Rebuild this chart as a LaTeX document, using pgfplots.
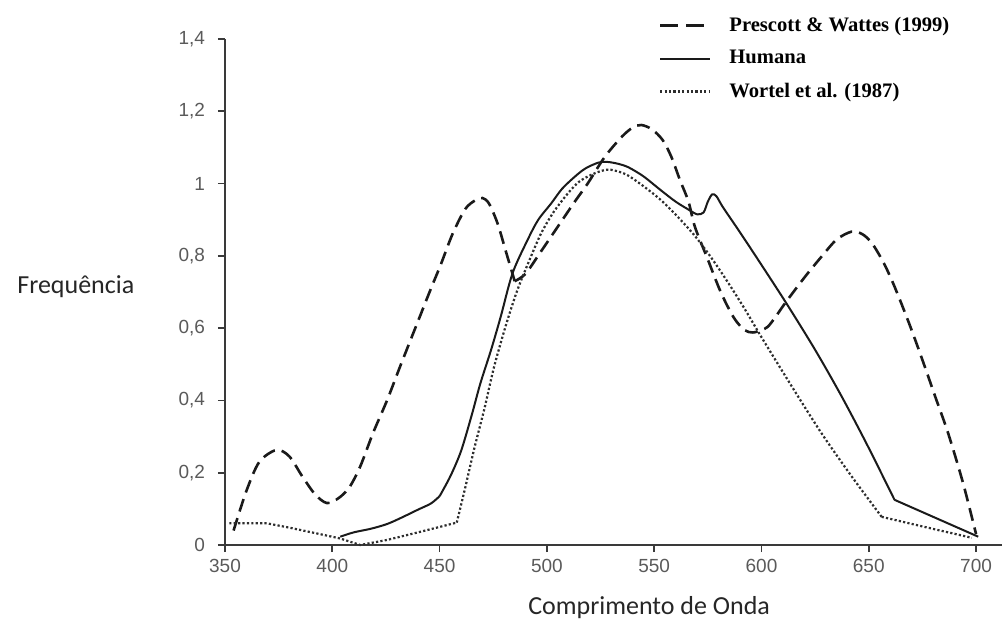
\documentclass[border=0pt]{standalone}
\usepackage{fontspec}
\setmainfont{Liberation Sans}
\newfontfamily\legfont{Liberation Serif}
\newfontfamily\labfont{Carlito}
\usepackage{pgfplots}
\pgfplotsset{compat=1.18}
\definecolor{axisGray}{HTML}{3A3A3A}
\definecolor{tickGray}{HTML}{5A5A5A}
\definecolor{curveBlack}{HTML}{1A1A1A}
\definecolor{dotGray}{HTML}{2E2E2E}

\begin{document}
\begin{tikzpicture}
\useasboundingbox (-112.5pt,-40.5pt) rectangle (389.5pt,272.5pt);
\begin{axis}[at={(0,0)},anchor=south west,scale only axis,width=388.4pt,height=253pt,
  xmin=350,xmax=712,ymin=0,ymax=1.4,clip=false,
  axis lines=left,axis line style={-,draw=axisGray,line width=0.9pt},
  xtick={350,400,...,700},ytick={0,0.2,...,1.4},
  tick align=outside,major tick length=3.5pt,tick style={draw=axisGray,line width=0.8pt},
  /pgf/number format/use comma,/pgf/number format/assume math mode=true,
  tick label style={font=\fontsize{9.5}{11}\selectfont,text=tickGray},
  yticklabel style={xshift=-3pt},
  xlabel={Comprimento de Onda},ylabel={Frequência},
  label style={font=\labfont\fontsize{13}{15}\selectfont,text=black!85},
  xlabel style={at={(rel axis cs:0.546,-0.1245)},anchor=center},
  ylabel style={rotate=-90,at={(rel axis cs:-0.192,0.51)},anchor=center},
  legend cell align=left,
  legend style={draw=none,fill=none,at={(rel axis cs:0.558,1.052)},anchor=north west,
    font=\legfont\bfseries\fontsize{10.3}{12}\selectfont,row sep=4pt,inner sep=0pt,
    nodes={inner sep=2pt}},
  legend image code/.code={\draw[#1] (0pt,0pt) -- (25pt,0pt); \path (32pt,0pt);}
]
% Prescott & Wattes (1999)
\addplot[curveBlack,line width=1.3pt,dash pattern=on 6.5pt off 3.5pt,smooth,tension=0.5,
  legend image code/.code={\draw[curveBlack,line width=1.3pt,dash pattern=on 9pt off 4pt] (0pt,0pt) -- (25pt,0pt); \path (32pt,0pt);}]
  coordinates {(354,0.04) (360,0.15) (366,0.23) (374,0.263) (380,0.245) (386,0.19) (392,0.14)
  (397.5,0.116) (403,0.13) (408,0.16) (413,0.217) (419,0.31) (425.5,0.40) (432,0.50) (440,0.62)
  (446,0.71) (450.5,0.775) (456,0.86) (462,0.93) (467,0.955) (470,0.96) (473,0.945) (477,0.89)
  (481,0.81) (485,0.73)};
\addlegendentry{Prescott \& Wattes (1999)}
\addplot[curveBlack,line width=1.3pt,dash pattern=on 6.5pt off 3.5pt,smooth,tension=0.5,forget plot]
  coordinates {(485,0.73) (490,0.75) (497,0.81) (505,0.88) (513,0.95) (519,1.0) (527,1.074)
  (535,1.13) (540,1.155) (544,1.162) (549,1.15) (554,1.12) (558,1.074) (562,1.01) (566,0.95)
  (569,0.88) (575,0.79) (581,0.70) (587,0.63) (592,0.595) (596,0.588) (600,0.595) (603,0.604)
  (607,0.635) (611,0.669) (620,0.74) (628,0.798) (635,0.845) (642,0.867) (647,0.86) (651.5,0.835)
  (657,0.78) (662,0.715) (669,0.61) (675,0.512) (681,0.41) (687,0.309) (694,0.17) (700,0.03)};
% Humana
\addplot[curveBlack,line width=1pt,smooth,tension=0.5]
  coordinates {(403.7,0.023) (410,0.035) (418,0.045) (425.5,0.058) (432,0.075) (440,0.098)
  (446,0.115) (450,0.135)};
\addlegendentry{Humana}
\addplot[curveBlack,line width=1pt,smooth,tension=0.5,forget plot]
  coordinates {(450,0.135) (455,0.19) (460,0.26) (465,0.36) (469,0.447) (474,0.54) (478.5,0.632)
  (484,0.752) (491,0.844) (496,0.90) (502,0.945) (507,0.985) (513,1.019) (518,1.042) (524,1.058)
  (528,1.06) (533,1.055) (538,1.045) (545,1.02) (553,0.982) (560,0.95) (566,0.928) (570,0.915)
  (573,0.92) (575,0.95) (577,0.97) (579,0.965) (582,0.935) (590,0.865) (600,0.775) (612,0.665)
  (625,0.54) (637,0.415) (649,0.28) (662,0.125)};
\addplot[curveBlack,line width=1pt,forget plot]
  coordinates {(662,0.125) (701,0.023)};
% Wortel et al. (1987)
\addplot[dotGray,line width=1.1pt,dash pattern=on 1.1pt off 1.1pt]
  coordinates {(352,0.06) (369.5,0.06) (380,0.048) (392,0.033) (403.7,0.018) (413,0.0)
  (425.5,0.014) (440,0.035) (458,0.062)};
\addlegendentry{Wortel et al. (1987)}
\addplot[dotGray,line width=1.1pt,dash pattern=on 1.1pt off 1.1pt,smooth,tension=0.5,forget plot]
  coordinates {(458,0.062) (462,0.16) (466,0.263) (471,0.38) (475.4,0.493) (481,0.61) (486.3,0.706)
  (492,0.79) (497.3,0.862) (503,0.92) (509.8,0.973) (515,1.005) (520.6,1.024) (526,1.036)
  (530,1.038) (537,1.025) (545.4,0.991) (553,0.955) (561,0.908) (569,0.855) (576.6,0.795)
  (584,0.73) (592,0.655) (600,0.575) (614,0.44) (628,0.309) (642,0.19) (656,0.078)};
\addplot[dotGray,line width=1.1pt,dash pattern=on 1.1pt off 1.1pt,forget plot]
  coordinates {(656,0.078) (676,0.05) (698,0.02)};
\end{axis}
\end{tikzpicture}
\end{document}
